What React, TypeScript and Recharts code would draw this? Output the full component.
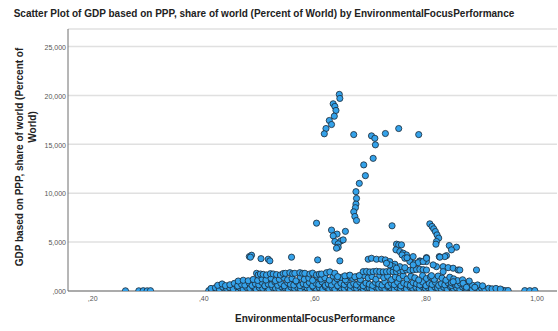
import React from 'react';
import { ScatterChart, Scatter, XAxis, YAxis, CartesianGrid } from 'recharts';

type Pt = [number, number];

const xTicks = [0.2, 0.4, 0.6, 0.8, 1.0];
const yTicks = [0, 5, 10, 15, 20, 25];

// Isolated observations at both ends of the scale
const edgePoints: Pt[] = [
  [0.259, 0.02], [0.283, 0.02], [0.291, 0.03], [0.298, 0.02], [0.304, 0.03],
  [0.978, 0.04], [0.987, 0.03], [0.996, 0.05],
];

// Highest branch (around 16–20 % of world)
const topBranch: Pt[] = [
  [0.644, 20.11], [0.645, 19.7], [0.633, 19.15], [0.636, 18.88], [0.638, 18.47],
  [0.635, 17.88], [0.626, 17.44], [0.63, 17.03], [0.62, 16.62], [0.617, 16.08],
  [0.67, 16.0], [0.702, 15.87], [0.708, 15.62], [0.709, 14.95], [0.727, 16.11],
  [0.751, 16.62], [0.787, 16.0],
];

// Second branch climbing from 7 to 13.5
const midBranch: Pt[] = [
  [0.705, 13.57], [0.688, 12.9], [0.691, 11.8], [0.68, 11.01], [0.674, 10.16],
  [0.675, 9.47], [0.674, 8.89], [0.673, 8.52], [0.67, 8.1], [0.672, 7.62], [0.675, 7.21],
];

// Values between roughly 3.5 and 7
const upperScatter: Pt[] = [
  [0.603, 6.94], [0.739, 6.67], [0.63, 6.23], [0.655, 6.1], [0.64, 5.82], [0.633, 5.64],
  [0.636, 5.06], [0.647, 5.13], [0.651, 5.23], [0.642, 4.82], [0.642, 4.48], [0.639, 4.38],
  [0.807, 6.87], [0.811, 6.6], [0.814, 6.36], [0.817, 6.08], [0.82, 5.74], [0.823, 5.41],
  [0.819, 5.06], [0.818, 4.79], [0.842, 4.65], [0.855, 4.48], [0.846, 4.21], [0.837, 3.62],
  [0.824, 3.52], [0.834, 3.52], [0.825, 3.46],
  [0.747, 4.79], [0.751, 4.72], [0.756, 4.72], [0.746, 4.21], [0.753, 4.03], [0.759, 3.87],
  [0.765, 3.69], [0.757, 3.69], [0.762, 3.35], [0.766, 3.4],
  [0.482, 3.52], [0.486, 3.66], [0.484, 3.46], [0.503, 3.31], [0.516, 3.25], [0.519, 3.08],
  [0.558, 3.46], [0.605, 3.18], [0.645, 3.08],
];

// Values between roughly 2.3 and 3.5
const shoulder: Pt[] = [
  [0.696, 3.25], [0.702, 3.35], [0.711, 3.25], [0.72, 3.25], [0.727, 3.18], [0.735, 3.01],
  [0.744, 2.74], [0.753, 2.49], [0.762, 2.39], [0.771, 3.01], [0.78, 2.84], [0.789, 3.08],
  [0.777, 3.52], [0.801, 3.42], [0.789, 3.01], [0.801, 3.01], [0.813, 2.67], [0.786, 2.9],
  [0.795, 3.01], [0.801, 3.35], [0.741, 2.49], [0.747, 2.33], [0.735, 2.67], [0.729, 2.84],
  [0.777, 2.67],
];

// Ridges near 1.6–2.5
const ridges: Pt[] = [
  [0.495, 1.81], [0.498, 1.64], [0.502, 1.74], [0.507, 1.7], [0.513, 1.64], [0.52, 1.77],
  [0.525, 1.74], [0.531, 1.68], [0.538, 1.64], [0.543, 1.79], [0.547, 1.81], [0.555, 1.87],
  [0.56, 1.77], [0.564, 1.81], [0.573, 1.87], [0.578, 1.8], [0.582, 1.81], [0.591, 1.74],
  [0.596, 1.83], [0.603, 1.64], [0.608, 1.72], [0.612, 1.74], [0.621, 1.87], [0.627, 1.95],
  [0.636, 1.81], [0.641, 1.47], [0.654, 1.55], [0.663, 1.62], [0.672, 1.45], [0.68, 1.58],
  [0.687, 1.98], [0.693, 2.0], [0.699, 1.95], [0.705, 1.98], [0.711, 2.02], [0.717, 1.98],
  [0.723, 1.96], [0.729, 1.98], [0.735, 2.01], [0.741, 1.98], [0.747, 1.97], [0.753, 2.05],
  [0.759, 2.08], [0.765, 2.15], [0.771, 2.12], [0.777, 2.15], [0.783, 2.2], [0.789, 2.22],
  [0.795, 2.18], [0.801, 2.15], [0.81, 1.57], [0.819, 2.49], [0.831, 2.49], [0.831, 1.98],
  [0.84, 2.39], [0.849, 2.33], [0.858, 2.15], [0.861, 2.15], [0.891, 2.15],
  [0.846, 0.85], [0.849, 0.95], [0.867, 0.79], [0.873, 0.38], [0.888, 0.38],
];

// Dense band close to zero
const bandFloor: Pt[] = [
  [0.409, 0.04], [0.414, 0.09], [0.419, 0.02], [0.423, 0.11], [0.429, 0.05], [0.436, 0.08],
  [0.44, 0.03], [0.447, 0.12], [0.451, 0.06], [0.458, 0.02], [0.462, 0.1], [0.469, 0.07],
  [0.475, 0.03], [0.479, 0.13], [0.486, 0.05], [0.492, 0.09], [0.495, 0.02], [0.503, 0.11],
  [0.508, 0.06], [0.514, 0.04], [0.519, 0.12], [0.526, 0.08], [0.531, 0.03], [0.537, 0.1],
  [0.541, 0.05], [0.548, 0.13], [0.553, 0.02], [0.559, 0.07], [0.566, 0.11], [0.57, 0.04],
  [0.576, 0.09], [0.583, 0.02], [0.588, 0.12], [0.592, 0.06], [0.599, 0.03], [0.604, 0.1],
  [0.611, 0.07], [0.615, 0.02], [0.622, 0.12], [0.628, 0.05], [0.633, 0.09], [0.637, 0.03],
  [0.644, 0.11], [0.65, 0.06], [0.655, 0.02], [0.661, 0.1], [0.666, 0.07], [0.673, 0.04],
  [0.677, 0.12], [0.684, 0.03], [0.689, 0.08], [0.694, 0.11], [0.701, 0.05], [0.706, 0.02],
  [0.712, 0.09], [0.717, 0.13], [0.723, 0.06], [0.728, 0.03], [0.734, 0.1], [0.739, 0.07],
  [0.745, 0.02], [0.751, 0.12], [0.756, 0.05], [0.762, 0.08], [0.767, 0.03], [0.773, 0.11],
  [0.778, 0.06], [0.784, 0.02], [0.79, 0.09], [0.795, 0.12], [0.801, 0.04], [0.806, 0.07],
  [0.812, 0.03], [0.817, 0.1], [0.823, 0.06], [0.828, 0.02], [0.834, 0.11], [0.839, 0.05],
  [0.845, 0.08], [0.851, 0.03], [0.856, 0.12], [0.861, 0.06], [0.867, 0.04], [0.872, 0.09],
  [0.878, 0.02], [0.884, 0.07], [0.889, 0.11], [0.894, 0.04], [0.9, 0.08], [0.905, 0.03],
  [0.911, 0.06], [0.917, 0.1], [0.922, 0.02], [0.927, 0.07], [0.933, 0.04], [0.938, 0.09],
  [0.943, 0.03], [0.948, 0.05],
];

const bandLow: Pt[] = [
  [0.413, 0.26], [0.421, 0.33], [0.428, 0.21], [0.434, 0.41], [0.441, 0.28], [0.446, 0.36],
  [0.453, 0.22], [0.46, 0.45], [0.466, 0.3], [0.471, 0.19], [0.477, 0.38], [0.483, 0.27],
  [0.489, 0.44], [0.494, 0.23], [0.5, 0.35], [0.506, 0.29], [0.511, 0.47], [0.517, 0.21],
  [0.524, 0.39], [0.529, 0.31], [0.535, 0.25], [0.54, 0.43], [0.546, 0.34], [0.552, 0.2],
  [0.557, 0.41], [0.563, 0.28], [0.569, 0.37], [0.574, 0.24], [0.58, 0.46], [0.586, 0.32],
  [0.591, 0.22], [0.597, 0.4], [0.602, 0.29], [0.608, 0.35], [0.614, 0.19], [0.619, 0.44],
  [0.625, 0.27], [0.631, 0.38], [0.636, 0.23], [0.642, 0.47], [0.647, 0.31], [0.653, 0.26],
  [0.659, 0.42], [0.664, 0.2], [0.67, 0.36], [0.675, 0.29], [0.681, 0.45], [0.687, 0.24],
  [0.692, 0.39], [0.698, 0.32], [0.703, 0.21], [0.709, 0.43], [0.715, 0.28], [0.72, 0.37],
  [0.726, 0.25], [0.731, 0.46], [0.737, 0.33], [0.743, 0.2], [0.748, 0.4], [0.754, 0.27],
  [0.76, 0.35], [0.765, 0.22], [0.771, 0.44], [0.776, 0.3], [0.782, 0.38], [0.788, 0.24],
  [0.793, 0.47], [0.799, 0.29], [0.804, 0.36], [0.81, 0.21], [0.816, 0.42], [0.821, 0.31],
  [0.827, 0.26], [0.832, 0.39], [0.838, 0.23], [0.844, 0.45], [0.849, 0.28], [0.855, 0.34],
  [0.861, 0.2], [0.866, 0.41], [0.872, 0.27], [0.878, 0.33], [0.883, 0.22], [0.889, 0.38],
  [0.895, 0.25], [0.9, 0.3], [0.906, 0.19], [0.913, 0.28], [0.919, 0.22], [0.926, 0.26],
  [0.934, 0.2],
];

const bandMid: Pt[] = [
  [0.425, 0.58], [0.433, 0.72], [0.439, 0.55], [0.447, 0.64], [0.455, 0.78], [0.461, 0.52],
  [0.468, 0.69], [0.474, 0.6], [0.482, 0.81], [0.487, 0.57], [0.493, 0.74], [0.499, 0.63],
  [0.505, 0.88], [0.51, 0.54], [0.516, 0.71], [0.522, 0.66], [0.528, 0.92], [0.533, 0.59],
  [0.539, 0.77], [0.545, 0.53], [0.551, 0.85], [0.556, 0.68], [0.562, 0.61], [0.568, 0.9],
  [0.573, 0.56], [0.579, 0.75], [0.585, 0.64], [0.59, 0.87], [0.596, 0.52], [0.602, 0.79],
  [0.607, 0.67], [0.613, 0.93], [0.619, 0.58], [0.624, 0.73], [0.63, 0.62], [0.636, 0.89],
  [0.641, 0.55], [0.647, 0.8], [0.653, 0.66], [0.658, 0.94], [0.664, 0.59], [0.67, 0.76],
  [0.675, 0.63], [0.681, 0.91], [0.687, 0.54], [0.692, 0.82], [0.698, 0.69], [0.704, 0.57],
  [0.709, 0.88], [0.715, 0.72], [0.721, 0.61], [0.726, 0.93], [0.732, 0.56], [0.738, 0.78],
  [0.743, 0.65], [0.749, 0.9], [0.755, 0.53], [0.76, 0.81], [0.766, 0.68], [0.772, 0.59],
  [0.777, 0.86], [0.783, 0.74], [0.789, 0.62], [0.794, 0.92], [0.8, 0.55], [0.806, 0.79],
  [0.811, 0.67], [0.817, 0.89], [0.823, 0.58], [0.828, 0.75], [0.834, 0.63], [0.84, 0.84],
  [0.846, 0.56], [0.851, 0.71], [0.857, 0.6], [0.862, 0.8], [0.869, 0.54], [0.876, 0.66],
  [0.884, 0.58], [0.893, 0.62], [0.902, 0.53],
];

const bandUpper: Pt[] = [
  [0.462, 1.02], [0.471, 1.1], [0.48, 1.05], [0.489, 1.18], [0.497, 1.08], [0.505, 1.24],
  [0.512, 1.12], [0.521, 1.31], [0.529, 1.06], [0.536, 1.2], [0.544, 1.38], [0.551, 1.15],
  [0.559, 1.27], [0.566, 1.04], [0.574, 1.42], [0.581, 1.19], [0.589, 1.33], [0.596, 1.09],
  [0.604, 1.47], [0.611, 1.22], [0.618, 1.36], [0.626, 1.11], [0.633, 1.52], [0.64, 1.26],
  [0.648, 1.4], [0.655, 1.14], [0.661, 1.55], [0.668, 1.3], [0.675, 1.45], [0.682, 1.17],
  [0.689, 1.58], [0.696, 1.34], [0.703, 1.48], [0.71, 1.21], [0.717, 1.6], [0.724, 1.37],
  [0.731, 1.52], [0.738, 1.16], [0.745, 1.44], [0.752, 1.29], [0.759, 1.56], [0.766, 1.23],
  [0.773, 1.49], [0.78, 1.35], [0.787, 1.13], [0.794, 1.58], [0.801, 1.28], [0.808, 1.46],
  [0.815, 1.19], [0.822, 1.53], [0.829, 1.32], [0.836, 1.1], [0.843, 1.41], [0.85, 1.24],
  [0.857, 1.06], [0.866, 1.15], [0.878, 1.02],
];

const observations = [
  ...bandFloor, ...bandLow, ...bandMid, ...bandUpper, ...ridges, ...shoulder,
  ...upperScatter, ...midBranch, ...topBranch, ...edgePoints,
].map(([x, y]) => ({ x, y }));

const FONT = '"Liberation Sans", Arial, Helvetica, sans-serif';

const fmtX = (v: number) => v.toFixed(2).replace('.', ',').replace(/^0/, '');
const fmtY = (v: number) => v.toFixed(3).replace('.', ',').replace(/^0/, '');

const XTick = (props: any) => (
  <text x={props.x} y={300.8} textAnchor="middle" fontSize={7} fill="#555" fontFamily={FONT}>
    {fmtX(props.payload.value)}
  </text>
);

const YTick = (props: any) => (
  <text x={66} y={props.y + 3.2} textAnchor="end" fontSize={7} fill="#555" fontFamily={FONT}>
    {fmtY(props.payload.value)}
  </text>
);

const Dot = (props: any) => {
  const { cx, cy } = props;
  if (cx == null || cy == null) return <g />;
  return <circle cx={cx} cy={cy} r={3.1} fill="#34a2ea" stroke="#1b2733" strokeWidth={0.8} />;
};

export default function App() {
  return (
    <div style={{ position: 'fixed', left: 0, top: 0, width: 558, height: 331, background: '#fff' }}>
      <ScatterChart width={558} height={331} margin={{ top: 29, right: 1, bottom: 0, left: 0 }}>
        <CartesianGrid vertical={false} stroke="#e0e0e0" strokeWidth={1.5} />
        <XAxis
          type="number"
          dataKey="x"
          domain={[0.1555, 1.036]}
          ticks={xTicks}
          allowDataOverflow
          height={40}
          tickLine={false}
          axisLine={{ stroke: '#6e6e6e' }}
          tick={<XTick />}
        />
        <YAxis
          type="number"
          dataKey="y"
          domain={[0, 26.8]}
          ticks={yTicks}
          allowDataOverflow
          width={68}
          tickLine={false}
          axisLine={{ stroke: '#6e6e6e' }}
          tick={<YTick />}
        />
        <Scatter data={observations} isAnimationActive={false} shape={<Dot />} />
      </ScatterChart>
      <svg
        width={558}
        height={331}
        style={{ position: 'absolute', left: 0, top: 0, pointerEvents: 'none' }}
      >
        <text x={264} y={16.5} textAnchor="middle" fontSize={10} fontWeight="bold" fill="#222" fontFamily={FONT}>
          Scatter Plot of GDP based on PPP, share of world (Percent of World) by EnvironmentalFocusPerformance
        </text>
        <text x={315} y={321.5} textAnchor="middle" fontSize={10} fontWeight="bold" fill="#222" fontFamily={FONT}>
          EnvironmentalFocusPerformance
        </text>
        <text
          transform="translate(22.5,157) rotate(-90)"
          textAnchor="middle"
          fontSize={10}
          fontWeight="bold"
          fill="#222"
          fontFamily={FONT}
        >
          GDP based on PPP, share of world (Percent of
        </text>
        <text
          transform="translate(35.5,127) rotate(-90)"
          textAnchor="middle"
          fontSize={10}
          fontWeight="bold"
          fill="#222"
          fontFamily={FONT}
        >
          World)
        </text>
      </svg>
    </div>
  );
}
